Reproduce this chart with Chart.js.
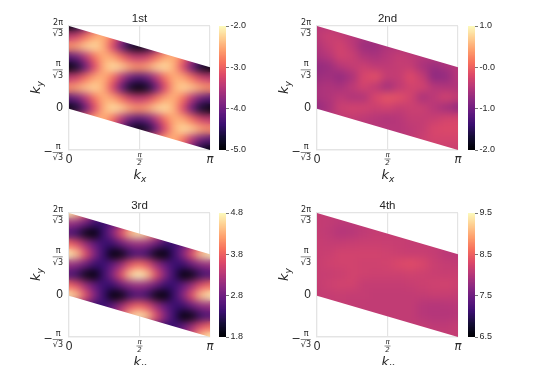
<!DOCTYPE html>
<html><head><meta charset="utf-8">
<script src="https://cdn.jsdelivr.net/npm/chart.js@4"></script>
<style>
html,body{margin:0;padding:0;background:#fff;width:550px;height:365px;overflow:hidden}
canvas{position:absolute;display:block}
</style></head><body>
<script>
const PI = Math.PI, UNIT = Math.PI / Math.sqrt(3);
const xTickValues = [0, PI / 2, PI];
const xTickLabels = ['0', ['π', '2'], 'π'];
const yTickValues = [-UNIT, 0, UNIT, 2 * UNIT];
const yTickLabels = [['π\u00a0', '√3'], ['0', ''], ['π\u00a0', '√3'], ['2π', '√3']];
const rowLevels = [2, 1.75, 1.5, 1.25, 1, 0.75, 0.5, 0.25, 0, -0.25, -0.5, -0.75, -1];
const magmaStops = ['#000004','#140e36','#3b0f70','#641a80','#8c2981','#b73779','#de4968','#f7705c','#fe9f6d','#fecf92','#fcfdbf'];

const titles = ['1st', '2nd', '3rd', '4th'];
const colorbarTicks1 = [-5, -4, -3, -2], colorbarLabels1 = ['-5.0', '-4.0', '-3.0', '-2.0'];
const colorbarTicks2 = [-2, -1, 0, 1], colorbarLabels2 = ['-2.0', '-1.0', '-0.0', '1.0'];
const colorbarTicks3 = [1.8, 2.8, 3.8, 4.8], colorbarLabels3 = ['1.8', '2.8', '3.8', '4.8'];
const colorbarTicks4 = [6.5, 7.5, 8.5, 9.5], colorbarLabels4 = ['6.5', '7.5', '8.5', '9.5'];

const band1 = [
[-4.95,-4.69,-4.05,-3.20,-2.50,-2.20,-2.30,-2.55,-2.70,-2.55,-2.30,-2.20,-2.50,-3.20,-4.05,-4.69,-4.95],
[-3.45,-3.30,-2.90,-2.55,-2.50,-2.88,-3.50,-4.01,-4.20,-4.01,-3.50,-2.88,-2.50,-2.55,-2.90,-3.30,-3.45],
[-2.70,-2.55,-2.30,-2.20,-2.50,-3.20,-4.05,-4.69,-4.95,-4.69,-4.05,-3.20,-2.50,-2.20,-2.30,-2.55,-2.70],
[-4.20,-4.01,-3.50,-2.88,-2.50,-2.55,-2.90,-3.30,-3.45,-3.30,-2.90,-2.55,-2.50,-2.88,-3.50,-4.01,-4.20],
[-4.98,-4.72,-4.05,-3.20,-2.50,-2.18,-2.28,-2.55,-2.70,-2.55,-2.28,-2.18,-2.50,-3.20,-4.05,-4.72,-4.98],
[-3.45,-3.30,-2.90,-2.55,-2.50,-2.88,-3.50,-4.05,-4.25,-4.05,-3.50,-2.88,-2.50,-2.55,-2.90,-3.30,-3.45],
[-2.70,-2.55,-2.35,-2.25,-2.50,-3.20,-4.05,-4.75,-5.00,-4.75,-4.05,-3.20,-2.50,-2.25,-2.35,-2.55,-2.70],
[-4.20,-4.01,-3.50,-2.88,-2.50,-2.55,-2.90,-3.30,-3.45,-3.30,-2.90,-2.55,-2.50,-2.88,-3.50,-4.01,-4.20],
[-4.95,-4.72,-4.05,-3.20,-2.50,-2.18,-2.28,-2.55,-2.70,-2.55,-2.28,-2.18,-2.50,-3.20,-4.05,-4.72,-4.95],
[-3.45,-3.30,-2.90,-2.55,-2.50,-2.88,-3.50,-4.01,-4.20,-4.01,-3.50,-2.88,-2.50,-2.55,-2.90,-3.30,-3.45],
[-2.70,-2.55,-2.30,-2.20,-2.50,-3.20,-4.05,-4.69,-4.95,-4.69,-4.05,-3.20,-2.50,-2.20,-2.30,-2.55,-2.70],
[-4.20,-4.01,-3.50,-2.88,-2.50,-2.55,-2.90,-3.30,-3.45,-3.30,-2.90,-2.55,-2.50,-2.88,-3.50,-4.01,-4.20],
[-4.95,-4.69,-4.05,-3.20,-2.50,-2.20,-2.30,-2.55,-2.70,-2.55,-2.30,-2.20,-2.50,-3.20,-4.05,-4.69,-4.95]
];

const band3 = [
[4.70,4.41,3.67,2.95,2.40,1.75,1.90,2.35,2.55,2.35,1.90,1.75,2.40,2.95,3.67,4.41,4.70],
[3.10,3.00,2.72,2.40,2.40,2.70,3.10,3.63,3.85,3.63,3.10,2.70,2.40,2.40,2.72,3.00,3.10],
[2.55,2.35,1.90,1.75,2.40,2.95,3.67,4.41,4.70,4.41,3.67,2.95,2.40,1.75,1.90,2.35,2.55],
[3.85,3.63,3.10,2.70,2.40,2.40,2.72,3.00,3.10,3.00,2.72,2.40,2.40,2.70,3.10,3.63,3.85],
[4.75,4.45,3.67,2.95,2.40,1.72,1.88,2.35,2.55,2.35,1.88,1.72,2.40,2.95,3.67,4.45,4.75],
[3.10,3.00,2.72,2.40,2.40,2.70,3.10,3.68,3.90,3.68,3.10,2.70,2.40,2.40,2.72,3.00,3.10],
[2.55,2.35,1.90,1.75,2.40,2.95,3.67,4.47,4.80,4.47,3.67,2.95,2.40,1.75,1.90,2.35,2.55],
[3.85,3.63,3.10,2.70,2.40,2.40,2.72,3.00,3.10,3.00,2.72,2.40,2.40,2.70,3.10,3.63,3.85],
[4.70,4.41,3.67,2.95,2.40,1.72,1.88,2.35,2.55,2.35,1.88,1.72,2.40,2.95,3.67,4.41,4.70],
[3.10,3.00,2.72,2.40,2.40,2.70,3.10,3.63,3.85,3.63,3.10,2.70,2.40,2.40,2.72,3.00,3.10],
[2.55,2.35,1.90,1.75,2.40,2.95,3.67,4.45,4.75,4.45,3.67,2.95,2.40,1.75,1.90,2.35,2.55],
[3.85,3.63,3.10,2.70,2.40,2.40,2.72,3.00,3.10,3.00,2.72,2.40,2.40,2.70,3.10,3.63,3.85],
[4.70,4.41,3.67,2.95,2.40,1.75,1.90,2.35,2.55,2.35,1.90,1.75,2.40,2.95,3.67,4.41,4.70]
];

const band2 = [
[-0.50,-0.50,-0.50,-0.50,-0.50,-0.50,-0.50,-0.50,-0.50,-0.50,-0.50,-0.50,-0.50],
[-0.45,-0.35,-0.40,-0.50,-0.55,-0.55,-0.55,-0.55,-0.55,-0.55,-0.55,-0.55,-0.55],
[-0.55,-0.40,-0.30,-0.45,-0.70,-0.70,-0.55,-0.55,-0.55,-0.55,-0.55,-0.55,-0.55],
[-0.60,-0.50,-0.30,-0.35,-0.55,-0.60,-0.50,-0.40,-0.45,-0.50,-0.50,-0.50,-0.50],
[-0.75,-0.70,-0.50,-0.40,-0.35,-0.45,-0.45,-0.40,-0.40,-0.60,-0.70,-0.60,-0.50],
[-0.70,-0.65,-0.75,-0.60,-0.25,-0.15,-0.40,-0.40,-0.20,-0.40,-0.80,-0.75,-0.50],
[-0.60,-0.55,-0.60,-0.45,-0.30,-0.45,-0.65,-0.45,-0.30,-0.30,-0.50,-0.55,-0.55],
[-0.60,-0.55,-0.45,-0.55,-0.55,-0.25,-0.10,-0.15,-0.30,-0.60,-0.45,-0.30,-0.40],
[-0.75,-0.60,-0.35,-0.30,-0.30,-0.35,-0.30,-0.40,-0.35,-0.35,-0.50,-0.65,-0.75],
[-0.50,-0.50,-0.45,-0.40,-0.45,-0.50,-0.55,-0.50,-0.40,-0.40,-0.38,-0.30,-0.28],
[-0.50,-0.50,-0.50,-0.50,-0.50,-0.50,-0.50,-0.50,-0.45,-0.40,-0.25,-0.22,-0.22],
[-0.50,-0.50,-0.50,-0.50,-0.50,-0.50,-0.50,-0.50,-0.45,-0.35,-0.28,-0.28,-0.28],
[-0.35,-0.35,-0.35,-0.35,-0.35,-0.35,-0.35,-0.35,-0.35,-0.35,-0.35,-0.35,-0.35]
];

const band4 = [
[8.08,8.08,8.08,8.08,8.08,8.08,8.08,8.08,8.08,8.08,8.08,8.08,8.08],
[8.10,8.08,8.04,8.04,8.08,8.10,8.10,8.10,8.10,8.10,8.10,8.10,8.10],
[8.10,8.06,7.98,7.99,8.06,8.10,8.10,8.10,8.10,8.10,8.10,8.10,8.10],
[8.12,8.10,8.10,8.12,8.14,8.14,8.13,8.12,8.10,8.10,8.10,8.10,8.10],
[8.12,8.14,8.20,8.20,8.20,8.20,8.18,8.14,8.12,8.12,8.10,8.02,8.02],
[8.12,8.18,8.20,8.20,8.18,8.18,8.20,8.28,8.32,8.26,8.14,8.10,8.08],
[8.12,8.12,8.14,8.20,8.18,8.16,8.16,8.16,8.18,8.16,8.14,8.12,8.14],
[8.10,8.16,8.20,8.20,8.10,8.10,8.10,8.10,8.12,8.15,8.18,8.20,8.16],
[8.10,8.10,8.12,8.10,8.10,8.08,8.08,8.08,8.08,8.10,8.12,8.12,8.10],
[8.10,8.10,8.10,8.08,8.08,8.08,8.08,8.08,8.08,8.00,7.98,8.00,8.02],
[8.08,8.08,8.08,8.08,8.08,8.08,8.08,8.08,8.08,8.00,7.98,7.98,7.99],
[8.08,8.08,8.08,8.08,8.08,8.08,8.08,8.08,8.08,8.08,8.05,8.05,8.10],
[8.10,8.10,8.10,8.10,8.10,8.10,8.10,8.10,8.10,8.10,8.10,8.10,8.10]
];

const INK = '#262626', EDGE = '#e4e4e4';
const SANS = '"Liberation Sans", Arial, sans-serif', MATH = '"DejaVu Sans", sans-serif';

function hexRgb(h) { return [1, 3, 5].map(i => parseInt(h.substr(i, 2), 16)); }
function magma(f) {
  f = Math.max(0, Math.min(1, f)) * (magmaStops.length - 1);
  const i = Math.min(Math.floor(f), magmaStops.length - 2), t = f - i;
  const a = hexRgb(magmaStops[i]), b = hexRgb(magmaStops[i + 1]);
  return 'rgb(' + a.map((v, k) => Math.round(v + (b[k] - v) * t)).join(',') + ')';
}
function addCanvas(left, top, w, h) {
  const c = document.createElement('canvas');
  c.width = w; c.height = h;
  c.style.left = left + 'px'; c.style.top = top + 'px';
  c.style.width = w + 'px'; c.style.height = h + 'px';
  document.body.appendChild(c);
  return c;
}

const softenPlugin = {
  id: 'soften',
  beforeDatasetsDraw(chart) {
    const s = document.createElement('canvas');
    s.width = chart.canvas.width; s.height = chart.canvas.height;
    s.getContext('2d').drawImage(chart.canvas, 0, 0);
    chart.$backdrop = s;
  },
  afterDatasetsDraw(chart) {
    const cv = chart.canvas, ctx = chart.ctx, X = chart.scales.x, Y = chart.scales.y;
    const b = document.createElement('canvas');
    b.width = cv.width; b.height = cv.height;
    const g = b.getContext('2d');
    g.drawImage(cv, 0, 0);
    g.filter = 'blur(4.5px)';
    g.drawImage(cv, 0, 0);
    ctx.save();
    ctx.clearRect(0, 0, cv.width, cv.height);
    ctx.drawImage(chart.$backdrop, 0, 0);
    ctx.beginPath();
    ctx.moveTo(X.getPixelForValue(0), Y.getPixelForValue(0));
    ctx.lineTo(X.getPixelForValue(PI), Y.getPixelForValue(-UNIT));
    ctx.lineTo(X.getPixelForValue(PI), Y.getPixelForValue(UNIT));
    ctx.lineTo(X.getPixelForValue(0), Y.getPixelForValue(2 * UNIT));
    ctx.closePath();
    ctx.clip();
    ctx.drawImage(b, 0, 0);
    ctx.restore();
  }
};

const annotatePlugin = {
  id: 'annotate',
  afterDraw(chart) {
    const ctx = chart.ctx, X = chart.scales.x, Y = chart.scales.y;
    ctx.save();
    ctx.fillStyle = INK; ctx.strokeStyle = '#555'; ctx.lineWidth = 0.7;
    const right = X.left - 6.3;
    yTickValues.filter(v => v !== 0).forEach(v => {
      const p = Y.getPixelForValue(v) + 2.5;
      ctx.beginPath(); ctx.moveTo(right - 10, p); ctx.lineTo(right, p); ctx.stroke();
    });
    const mid = X.getPixelForValue(PI / 2);
    ctx.beginPath(); ctx.moveTo(mid - 3, Y.bottom + 9); ctx.lineTo(mid + 3, Y.bottom + 9); ctx.stroke();
    ctx.textAlign = 'center'; ctx.textBaseline = 'middle';
    ctx.font = '11px ' + MATH;
    ctx.fillText('−', right - 14.5, Y.getPixelForValue(-UNIT) + 2.5);
    ctx.textBaseline = 'alphabetic';
    ctx.textAlign = 'left';
    ctx.font = 'italic 13px ' + MATH;
    const bx = mid - 6, by = Y.bottom + 29;
    ctx.fillText('k', bx, by);
    ctx.font = 'italic 9px ' + MATH;
    ctx.fillText('x', bx + 7.5, by + 2.5);
    ctx.translate(X.left - 29, Y.top + 68);
    ctx.rotate(-Math.PI / 2);
    ctx.font = 'italic 13px ' + MATH;
    ctx.fillText('k', 0, 0);
    ctx.font = 'italic 9px ' + MATH;
    ctx.fillText('y', 7.5, 2.5);
    ctx.restore();
  }
};

function drawPanel(left, top, title, rows, vmin, vmax, side) {
  const cols = rows[0].length;
  const pts = [], colors = [];
  rows.forEach((row, r) => row.forEach((v, c) => {
    pts.push({ x: PI * c / (cols - 1), y: rowLevels[r] * UNIT });
    colors.push(magma((v - vmin) / (vmax - vmin)));
  }));
  new Chart(addCanvas(left, top, 215, 182), {
    type: 'scatter',
    data: { datasets: [{ data: pts, backgroundColor: colors, borderWidth: 0, pointStyle: 'rect', pointRadius: side / 1.414, pointHoverRadius: side / 1.414, clip: false }] },
    options: {
      responsive: false, animation: false, devicePixelRatio: 1,
      layout: { autoPadding: false, padding: { left: 0, right: 5, top: 0, bottom: 0 } },
      plugins: {
        legend: { display: false }, tooltip: { enabled: false },
        title: { display: true, fullSize: false, text: title, color: INK, font: { family: SANS, size: 11.5, weight: 'normal', lineHeight: 1 }, padding: { top: 13.4, bottom: 1.1 } }
      },
      scales: {
        x: {
          type: 'linear', min: 0, max: PI,
          afterBuildTicks: s => { s.ticks = xTickValues.map(v => ({ value: v })); },
          afterFit: s => { s.height = 32; s.paddingLeft = 0; s.paddingRight = 0; },
          grid: { color: EDGE, lineWidth: 1.2, drawTicks: false },
          border: { color: EDGE, width: 1.2 },
          ticks: {
            padding: 1, maxRotation: 0, autoSkip: false, color: INK,
            callback: (v, i) => xTickLabels[i],
            font: c => c.tick && c.tick.value === 0 ? { family: SANS, size: 12, lineHeight: 18 / 12 }
              : c.tick && c.tick.value === PI ? { family: MATH, style: 'italic', size: 11.5, lineHeight: 18 / 11.5 }
              : { family: MATH, style: 'italic', size: 7, lineHeight: 8 / 7 }
          }
        },
        y: {
          type: 'linear', min: -UNIT, max: 2 * UNIT,
          afterBuildTicks: s => { s.ticks = yTickValues.map(v => ({ value: v })); },
          afterFit: s => { s.width = 69; s.paddingTop = 0; s.paddingBottom = 0; },
          grid: { color: EDGE, lineWidth: 1.2, drawTicks: false },
          border: { color: EDGE, width: 1.2 },
          ticks: {
            padding: 6, autoSkip: false, color: INK, labelOffset: 2.5,
            callback: (v, i) => yTickLabels[i],
            font: c => c.tick && c.tick.value === 0 ? { family: SANS, size: 12, lineHeight: 0.5 }
              : { family: MATH, size: 8, lineHeight: 11.5 / 8 }
          }
        }
      }
    },
    plugins: [softenPlugin, annotatePlugin]
  });
}

function drawColorbar(left, top, vmin, vmax, tickValues, tickLabels) {
  const steps = 96, sets = [];
  for (let k = 0; k < steps; k++) {
    const lo = vmin + (vmax - vmin) * k / steps, hi = vmin + (vmax - vmin) * (k + 1.3) / steps;
    sets.push({ data: [[lo, Math.min(hi, vmax)]], backgroundColor: magma((k + 0.5) / steps), borderWidth: 0, grouped: false, barPercentage: 1, categoryPercentage: 1 });
  }
  new Chart(addCanvas(left, top, 50, 182), {
    type: 'bar',
    data: { labels: [''], datasets: sets },
    options: {
      responsive: false, animation: false, devicePixelRatio: 1,
      layout: { padding: { left: 3, right: 0, top: 26, bottom: 32 } },
      plugins: { legend: { display: false }, tooltip: { enabled: false } },
      scales: {
        x: { display: false },
        y: {
          type: 'linear', position: 'right', min: vmin, max: vmax,
          afterBuildTicks: s => { s.ticks = tickValues.map(v => ({ value: v })); },
          afterFit: s => { s.width = 40; },
          grid: { drawOnChartArea: false, drawTicks: true, tickLength: 3, color: '#555', lineWidth: 0.8 },
          border: { display: false },
          ticks: { padding: 1.5, autoSkip: false, color: INK, font: { family: SANS, size: 9 }, callback: (v, i) => tickLabels[i] }
        }
      }
    }
  });
}

drawPanel(0, 0, titles[0], band1, -5, -2, 10.5);
drawPanel(248, 0, titles[1], band2, -2, 1, 12.5);
drawPanel(0, 187, titles[2], band3, 1.8, 4.8, 10.5);
drawPanel(248, 187, titles[3], band4, 6.5, 9.5, 12.5);
drawColorbar(216, 0, -5, -2, colorbarTicks1, colorbarLabels1);
drawColorbar(465, 0, -2, 1, colorbarTicks2, colorbarLabels2);
drawColorbar(216, 187, 1.8, 4.8, colorbarTicks3, colorbarLabels3);
drawColorbar(465, 187, 6.5, 9.5, colorbarTicks4, colorbarLabels4);
</script>
</body></html>
